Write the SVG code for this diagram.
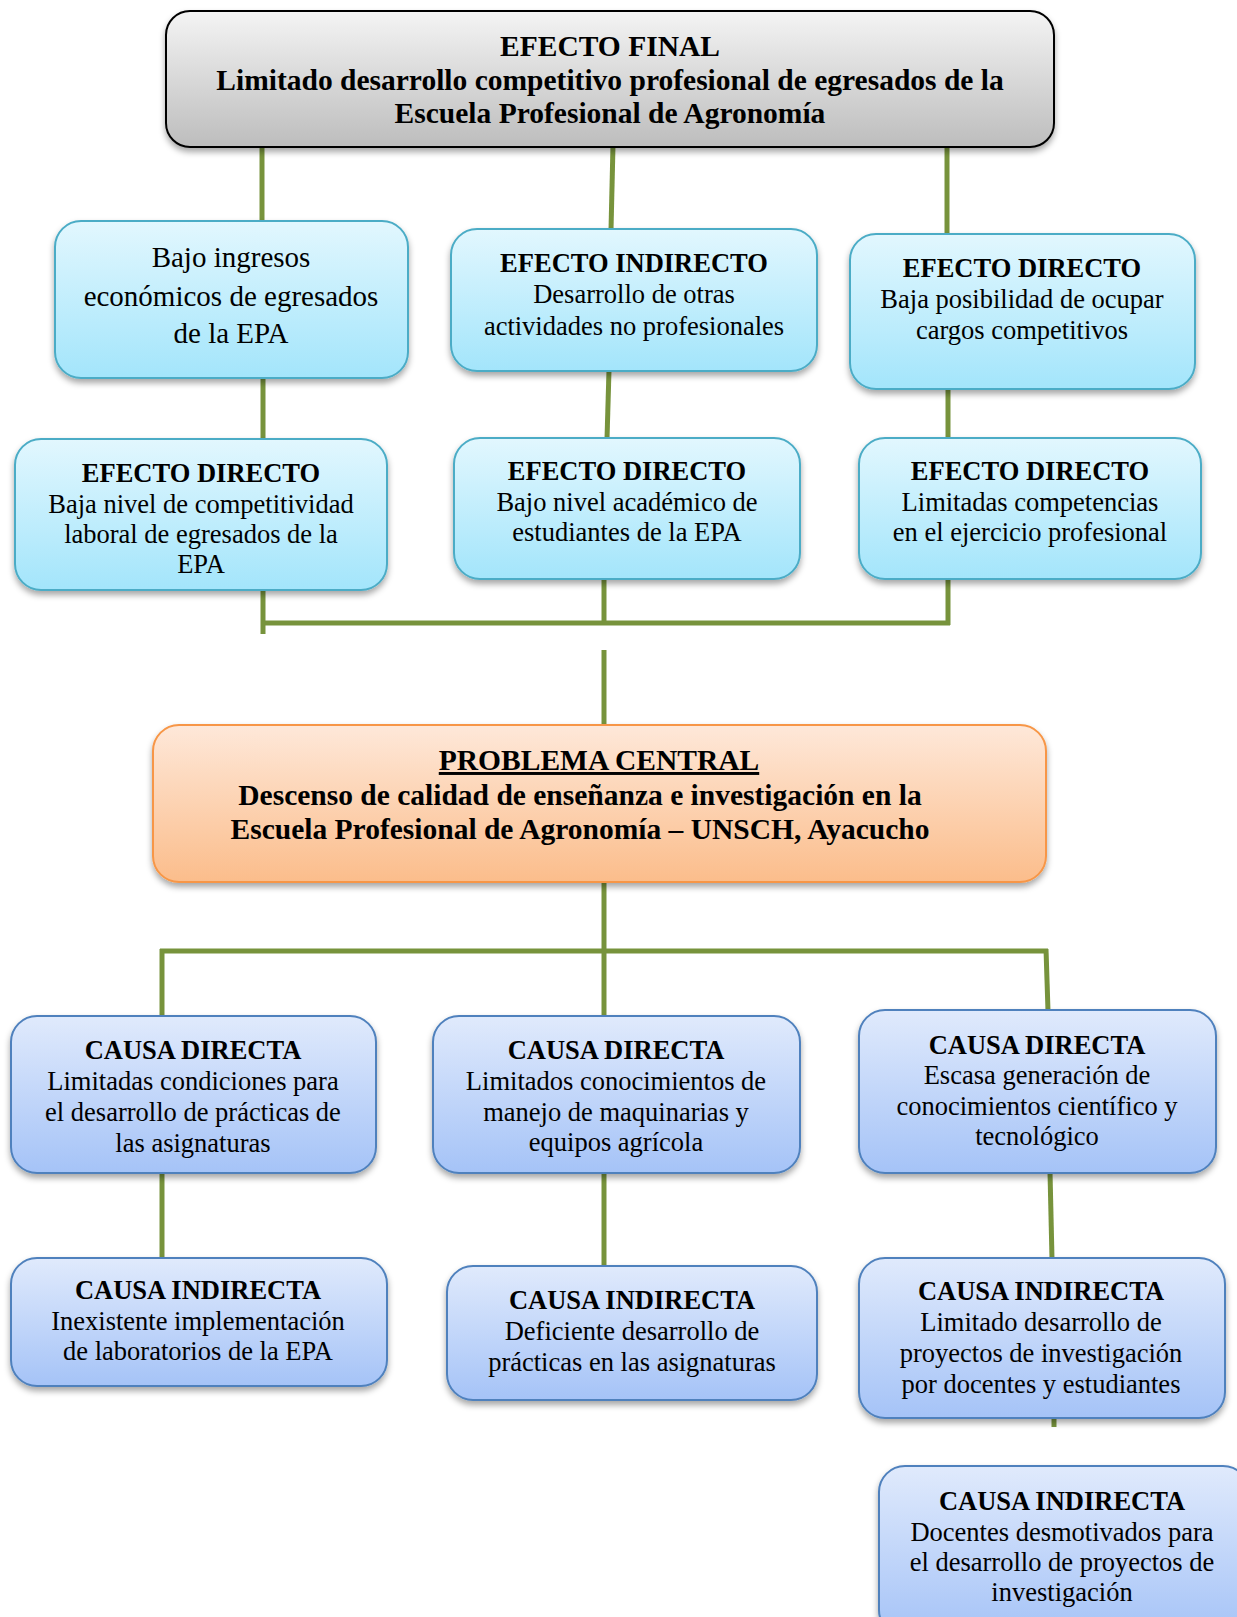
<svg xmlns="http://www.w3.org/2000/svg" width="1237" height="1617" viewBox="0 0 1237 1617">
  <defs>
    <linearGradient id="gGray" x1="0" y1="0" x2="0" y2="1">
      <stop offset="0" stop-color="#f4f4f4"/>
      <stop offset="1" stop-color="#bdbdbd"/>
    </linearGradient>
    <linearGradient id="gCyan" x1="0" y1="0" x2="0" y2="1">
      <stop offset="0" stop-color="#e2f7fe"/>
      <stop offset="1" stop-color="#a3e5fb"/>
    </linearGradient>
    <linearGradient id="gOrange" x1="0" y1="0" x2="0" y2="1">
      <stop offset="0" stop-color="#fee8d9"/>
      <stop offset="1" stop-color="#fbbd8b"/>
    </linearGradient>
    <linearGradient id="gBlue" x1="0" y1="0" x2="0" y2="1">
      <stop offset="0" stop-color="#e0eafc"/>
      <stop offset="1" stop-color="#a5c3f7"/>
    </linearGradient>
    <filter id="shadow" x="-10%" y="-10%" width="120%" height="130%">
      <feDropShadow dx="0" dy="4" stdDeviation="3" flood-color="#000" flood-opacity="0.35"/>
    </filter>
  </defs>
  <style>
    .link { stroke: #77933c; stroke-width: 5; fill: none; }
    .gray { fill: url(#gGray); stroke: #000; stroke-width: 2; filter: url(#shadow); }
    .cyan { fill: url(#gCyan); stroke: #4bacc6; stroke-width: 2; filter: url(#shadow); }
    .orange { fill: url(#gOrange); stroke: #f79646; stroke-width: 2; filter: url(#shadow); }
    .blue { fill: url(#gBlue); stroke: #4f81bd; stroke-width: 2; filter: url(#shadow); }
    text { font-family: "Liberation Serif", "Times New Roman", serif; fill: #000; text-anchor: middle; }
    .t { font-size: 26.5px; }
    .h { font-size: 26.5px; font-weight: bold; }
    .big { font-size: 29.5px; font-weight: bold; }
    .lg { font-size: 29px; }
  </style>
  <rect width="1237" height="1617" fill="#fff"/>

  <!-- connectors -->
  <g id="connectors">
    <line class="link" x1="262" y1="145" x2="262" y2="222"/>
    <line class="link" x1="613" y1="145" x2="611" y2="230"/>
    <line class="link" x1="947" y1="145" x2="947" y2="235"/>
    <line class="link" x1="263" y1="377" x2="263" y2="440"/>
    <line class="link" x1="609" y1="370" x2="607" y2="439"/>
    <line class="link" x1="948" y1="388" x2="948" y2="439"/>
    <line class="link" x1="263" y1="589" x2="263" y2="634"/>
    <line class="link" x1="604" y1="578" x2="604" y2="623"/>
    <line class="link" x1="948" y1="578" x2="948" y2="625"/>
    <line class="link" x1="261" y1="623" x2="950" y2="623"/>
    <line class="link" x1="604" y1="650" x2="604" y2="726"/>
    <line class="link" x1="604" y1="881" x2="604" y2="951"/>
    <line class="link" x1="160" y1="951" x2="1048" y2="951"/>
    <line class="link" x1="162" y1="949" x2="162" y2="1017"/>
    <line class="link" x1="604" y1="949" x2="604" y2="1017"/>
    <line class="link" x1="1046" y1="949" x2="1048" y2="1011"/>
    <line class="link" x1="162" y1="1172" x2="162" y2="1259"/>
    <line class="link" x1="604" y1="1172" x2="604" y2="1267"/>
    <line class="link" x1="1050" y1="1172" x2="1052" y2="1259"/>
    <line class="link" x1="1054" y1="1417" x2="1054" y2="1427"/>
  </g>

  <!-- effect nodes -->
  <g id="efecto-final">
    <rect class="gray" x="166" y="11" width="888" height="136" rx="24"/>
    <text class="big" x="610" y="56">EFECTO FINAL</text>
    <text class="big" x="610" y="90">Limitado desarrollo competitivo profesional de egresados de la</text>
    <text class="big" x="610" y="123">Escuela Profesional de Agronomía</text>
  </g>

  <g id="bajo-ingresos">
    <rect class="cyan" x="55" y="221" width="353" height="157" rx="26"/>
    <text class="lg" x="231" y="267">Bajo ingresos</text>
    <text class="lg" x="231" y="306">económicos de egresados</text>
    <text class="lg" x="231" y="343">de la EPA</text>
  </g>

  <g id="efecto-indirecto">
    <rect class="cyan" x="451" y="229" width="366" height="142" rx="26"/>
    <text class="h" x="634" y="272">EFECTO INDIRECTO</text>
    <text class="t" x="634" y="303">Desarrollo de otras</text>
    <text class="t" x="634" y="335">actividades no profesionales</text>
  </g>

  <g id="efecto-directo-cargos">
    <rect class="cyan" x="850" y="234" width="345" height="155" rx="26"/>
    <text class="h" x="1022" y="277">EFECTO DIRECTO</text>
    <text class="t" x="1022" y="308">Baja posibilidad de ocupar</text>
    <text class="t" x="1022" y="339">cargos competitivos</text>
  </g>

  <g id="efecto-directo-competitividad">
    <rect class="cyan" x="15" y="439" width="372" height="151" rx="26"/>
    <text class="h" x="201" y="482">EFECTO DIRECTO</text>
    <text class="t" x="201" y="513">Baja nivel de competitividad</text>
    <text class="t" x="201" y="543">laboral de egresados de la</text>
    <text class="t" x="201" y="573">EPA</text>
  </g>

  <g id="efecto-directo-academico">
    <rect class="cyan" x="454" y="438" width="346" height="141" rx="26"/>
    <text class="h" x="627" y="480">EFECTO DIRECTO</text>
    <text class="t" x="627" y="511">Bajo nivel académico de</text>
    <text class="t" x="627" y="541">estudiantes de la EPA</text>
  </g>

  <g id="efecto-directo-competencias">
    <rect class="cyan" x="859" y="438" width="342" height="141" rx="26"/>
    <text class="h" x="1030" y="480">EFECTO DIRECTO</text>
    <text class="t" x="1030" y="511">Limitadas competencias</text>
    <text class="t" x="1030" y="541">en el ejercicio profesional</text>
  </g>

  <!-- central problem -->
  <g id="problema-central">
    <rect class="orange" x="153" y="725" width="893" height="157" rx="26"/>
    <text class="big" x="599" y="770" text-decoration="underline">PROBLEMA CENTRAL</text>
    <text class="big" x="580" y="805">Descenso de calidad de enseñanza e investigación en la</text>
    <text class="big" x="580" y="839">Escuela Profesional de Agronomía – UNSCH, Ayacucho</text>
  </g>

  <!-- cause nodes -->
  <g id="causa-directa-practicas">
    <rect class="blue" x="11" y="1016" width="365" height="157" rx="26"/>
    <text class="h" x="193" y="1059">CAUSA DIRECTA</text>
    <text class="t" x="193" y="1090">Limitadas condiciones para</text>
    <text class="t" x="193" y="1121">el desarrollo de prácticas de</text>
    <text class="t" x="193" y="1152">las asignaturas</text>
  </g>

  <g id="causa-directa-maquinarias">
    <rect class="blue" x="433" y="1016" width="367" height="157" rx="26"/>
    <text class="h" x="616" y="1059">CAUSA DIRECTA</text>
    <text class="t" x="616" y="1090">Limitados conocimientos de</text>
    <text class="t" x="616" y="1121">manejo de maquinarias y</text>
    <text class="t" x="616" y="1151">equipos agrícola</text>
  </g>

  <g id="causa-directa-conocimientos">
    <rect class="blue" x="859" y="1010" width="357" height="163" rx="26"/>
    <text class="h" x="1037" y="1054">CAUSA DIRECTA</text>
    <text class="t" x="1037" y="1084">Escasa generación de</text>
    <text class="t" x="1037" y="1115">conocimientos científico y</text>
    <text class="t" x="1037" y="1145">tecnológico</text>
  </g>

  <g id="causa-indirecta-laboratorios">
    <rect class="blue" x="11" y="1258" width="376" height="128" rx="26"/>
    <text class="h" x="198" y="1299">CAUSA INDIRECTA</text>
    <text class="t" x="198" y="1330">Inexistente implementación</text>
    <text class="t" x="198" y="1360">de laboratorios de la EPA</text>
  </g>

  <g id="causa-indirecta-practicas">
    <rect class="blue" x="447" y="1266" width="370" height="134" rx="26"/>
    <text class="h" x="632" y="1309">CAUSA INDIRECTA</text>
    <text class="t" x="632" y="1340">Deficiente desarrollo de</text>
    <text class="t" x="632" y="1371">prácticas en las asignaturas</text>
  </g>

  <g id="causa-indirecta-proyectos">
    <rect class="blue" x="859" y="1258" width="366" height="160" rx="26"/>
    <text class="h" x="1041" y="1300">CAUSA INDIRECTA</text>
    <text class="t" x="1041" y="1331">Limitado desarrollo de</text>
    <text class="t" x="1041" y="1362">proyectos de investigación</text>
    <text class="t" x="1041" y="1393">por docentes y estudiantes</text>
  </g>

  <g id="causa-indirecta-docentes">
    <rect class="blue" x="879" y="1466" width="370" height="170" rx="26"/>
    <text class="h" x="1062" y="1510">CAUSA INDIRECTA</text>
    <text class="t" x="1062" y="1541">Docentes desmotivados para</text>
    <text class="t" x="1062" y="1571">el desarrollo de proyectos de</text>
    <text class="t" x="1062" y="1601">investigación</text>
  </g>
</svg>
